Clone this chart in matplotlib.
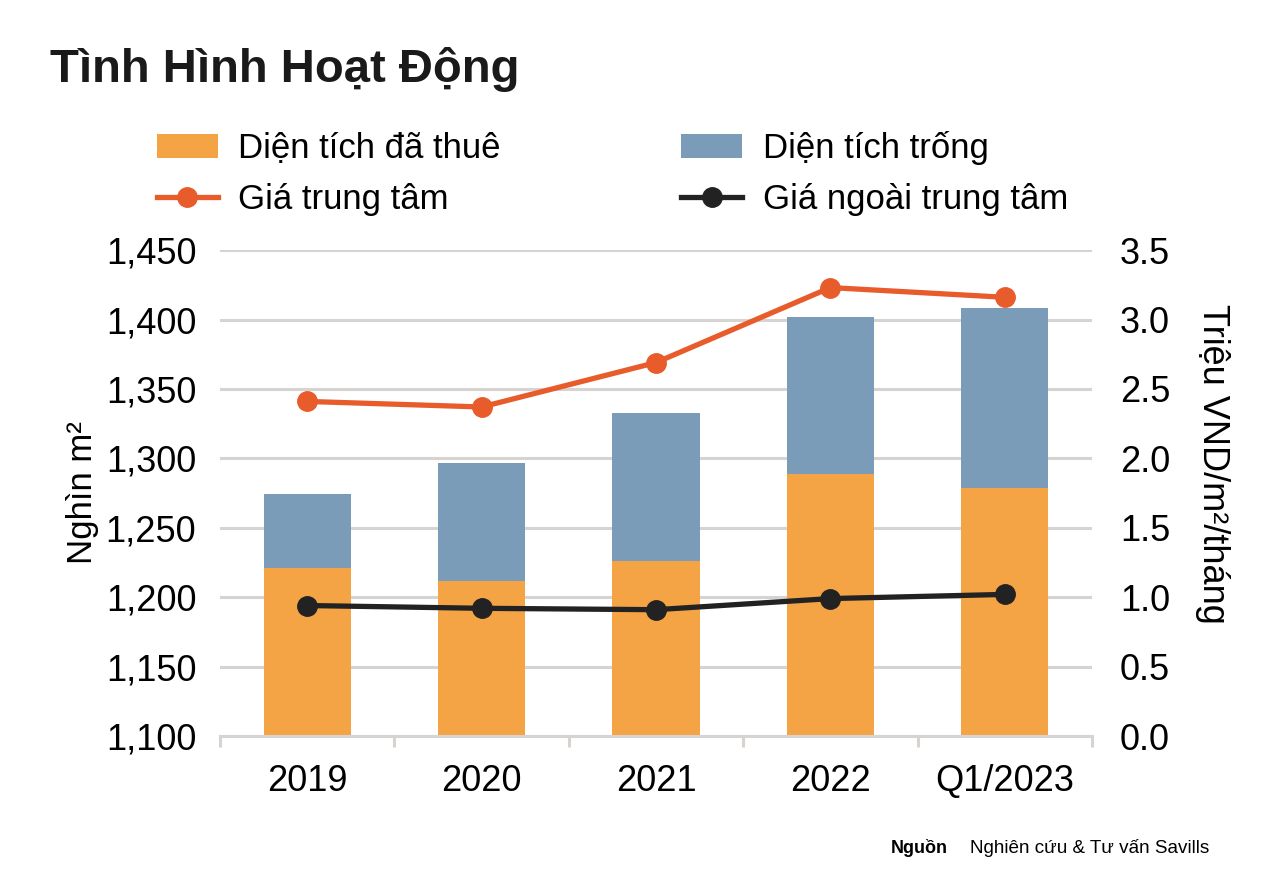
import matplotlib.pyplot as plt
import numpy as np
from matplotlib.ticker import FuncFormatter, FixedLocator

plt.rcParams['font.family'] = ['Liberation Sans', 'DejaVu Sans']

# data
categories = ["2019", "2020", "2021", "2022", "Q1/2023"]
leased = [1221, 1212, 1226, 1289, 1279]        # Diện tích đã thuê (nghìn m2)
vacant = [53, 85, 107, 113, 129]               # Diện tích trống (nghìn m2)
price_cbd = [2.41, 2.37, 2.69, 3.23, 3.16]     # Giá trung tâm
price_non_cbd = [0.94, 0.92, 0.91, 0.99, 1.02] # Giá ngoài trung tâm

c_leased = "#F4A444"
c_vacant = "#7A9CB8"
c_cbd = "#E85C2C"
c_non = "#222222"
grid_c = "#D6D3D0"

fig = plt.figure(figsize=(12.76, 8.90), dpi=100)
ax = fig.add_axes([0.1724, 0.173, 0.6834, 0.546])
x = np.arange(len(categories))

b1 = ax.bar(x, leased, width=0.5, color=c_leased, zorder=2, label="Diện tích đã thuê")
b2 = ax.bar(x, vacant, width=0.5, bottom=leased, color=c_vacant, zorder=2, label="Diện tích trống")
ax.set_ylim(1100, 1450)
ax.set_xlim(-0.5, len(categories) - 0.5)
ax.set_yticks(np.arange(1100, 1451, 50))
ax.yaxis.set_major_formatter(FuncFormatter(lambda v, p: f"{int(v):,}"))
ax.grid(axis="y", color=grid_c, linewidth=2.2, zorder=0)
ax.set_axisbelow(True)
for s in ["top", "left", "right"]:
    ax.spines[s].set_visible(False)
ax.spines["bottom"].set_color(grid_c)
ax.spines["bottom"].set_linewidth(2.2)
ax.set_xticks(x)
ax.set_xticklabels(categories)
ax.xaxis.set_minor_locator(FixedLocator(np.arange(-0.5, len(categories), 1)))
ax.tick_params(axis="x", which="major", length=0, pad=20, labelsize=26)
ax.tick_params(axis="x", which="minor", length=8, width=2.2, color=grid_c)
ax.tick_params(axis="y", length=0, pad=17, labelsize=26)
ax.set_ylabel("Nghìn m²", fontsize=25, labelpad=5)

ax2 = ax.twinx()
l1, = ax2.plot(x, price_cbd, color=c_cbd, lw=3.8, marker="o", ms=14, label="Giá trung tâm")
l2, = ax2.plot(x, price_non_cbd, color=c_non, lw=3.8, marker="o", ms=14, label="Giá ngoài trung tâm")
ax2.set_ylim(0, 3.5)
ax2.set_yticks(np.arange(0, 3.51, 0.5))
ax2.yaxis.set_major_formatter(FuncFormatter(lambda v, p: f"{v:.1f}"))
for s in ["top", "left", "right", "bottom"]:
    ax2.spines[s].set_visible(False)
ax2.tick_params(axis="y", length=0, pad=20, labelsize=26)
ax2.set_ylabel("Triệu VND/m²/tháng", fontsize=26, rotation=270, labelpad=36)
ax2.yaxis.set_label_coords(1.158, 0.56)

fig.text(0.039, 0.922, "Tình Hình Hoạt Động", fontsize=34, fontweight="bold",
         color="#1a1a1a", va="center")

fig.legend([b1, l1, b2, l2], [b1.get_label(), l1.get_label(), b2.get_label(), l2.get_label()],
           ncol=2, loc="upper left", bbox_to_anchor=(0.112, 0.868), frameon=False,
           fontsize=25, handlelength=1.75, handletextpad=0.6, columnspacing=5.2,
           labelspacing=0.5, borderaxespad=0)

fig.text(0.698, 0.047, "Nguồn", fontsize=13, fontweight="bold", va="center")
fig.text(0.760, 0.047, "Nghiên cứu & Tư vấn Savills", fontsize=13.6, va="center")

fig.savefig("out.png", dpi=100)
